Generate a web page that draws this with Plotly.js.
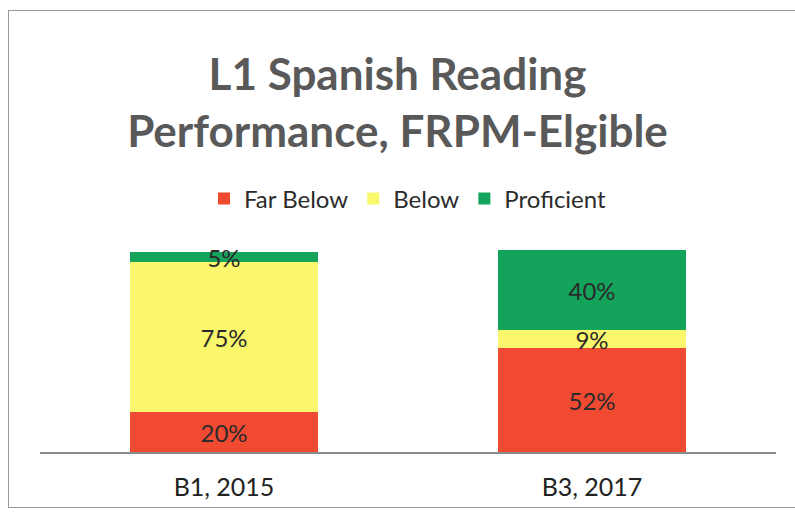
<!DOCTYPE html>
<html>
<head>
<meta charset="utf-8">
<script src="https://cdn.plot.ly/plotly-3.0.1.min.js"></script>
<style>
html,body{margin:0;padding:0;background:#fff;}
#frame{position:absolute;left:8px;top:10px;width:800px;height:498px;border:1px solid #9a9a9a;border-right:none;box-sizing:border-box;}
#chart{position:absolute;left:0;top:0;width:795px;height:517px;}
</style>
</head>
<body>
<div id="frame"></div>
<div id="chart"></div>
<script>
var categories = ["B1, 2015", "B3, 2017"];
var farBelow = [20, 52];
var below = [75, 9];
var proficient = [5, 40];
var seriesNames = ["Far Below", "Below", "Proficient"];
var seriesColors = ["#F04A32", "#FAF76C", "#13A35B"];
var seriesValues = [farBelow, below, proficient];

var traces = seriesValues.map(function (vals, i) {
  return {
    type: "bar",
    name: seriesNames[i],
    x: categories,
    y: vals,
    marker: { color: seriesColors[i], line: { width: 0 } },
    text: vals.map(function (v) { return v + "%"; }),
    textposition: "inside",
    insidetextanchor: "middle",
    constraintext: "none",
    textfont: { family: "Lato, 'Open Sans', sans-serif", size: 24, color: "#2a2a2a" },
    hoverinfo: "skip"
  };
});

var layout = {
  width: 795,
  height: 517,
  barmode: "stack",
  bargap: 0.49,
  paper_bgcolor: "rgba(0,0,0,0)",
  plot_bgcolor: "rgba(0,0,0,0)",
  margin: { l: 40, r: 19, t: 240, b: 65 },
  title: {
    text: "<b>L1 Spanish Reading<br>Performance, FRPM-Elgible</b>",
    font: { family: "Lato, 'Open Sans', sans-serif", size: 44, color: "#595959" },
    x: 0.5, xanchor: "center",
    y: 1 - 90 / 517, yanchor: "middle", yref: "container"
  },
  showlegend: true,
  legend: {
    orientation: "h",
    x: 0.5, xanchor: "center",
    y: 1 - 199 / 517, yanchor: "middle", yref: "container",
    font: { family: "Lato, 'Open Sans', sans-serif", size: 24, color: "#2b2b2b" },
    traceorder: "normal",
    itemwidth: 30
  },
  xaxis: {
    type: "category",
    showline: true,
    linecolor: "#8a8a8a",
    linewidth: 1.5,
    ticks: "",
    tickfont: { family: "Lato, 'Open Sans', sans-serif", size: 25, color: "#222" },
    ticklabelstandoff: 12
  },
  yaxis: {
    range: [0, 106],
    visible: false,
    showgrid: false,
    zeroline: false
  }
};

Plotly.newPlot("chart", traces, layout, { displayModeBar: false, staticPlot: true });
</script>
</body>
</html>
